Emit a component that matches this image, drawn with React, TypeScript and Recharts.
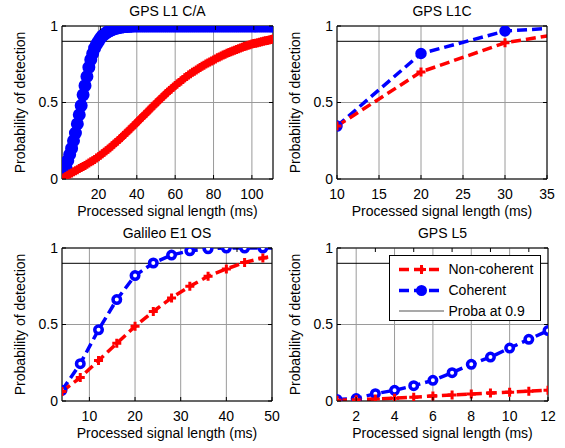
import React from 'react';
import { LineChart, Line, XAxis, YAxis, CartesianGrid, ReferenceLine, Legend } from 'recharts';

const FONT = 'Arial, "Liberation Sans", sans-serif';
const RED = '#ff0000';
const BLUE = '#0000ff';
const GRID = '#9a9a9a';

// GPS L1 C/A, one point per ms
const caLength = Array.from({ length: 111 }, (_, i) => i + 1);
const caNonCoherent = [
  0, 0.008, 0.016, 0.024, 0.032, 0.04, 0.047, 0.054, 0.061, 0.068,
  0.075, 0.082, 0.089, 0.096, 0.104, 0.112, 0.12, 0.128, 0.137, 0.146,
  0.155, 0.165, 0.175, 0.185, 0.195, 0.205, 0.216, 0.227, 0.238, 0.249,
  0.26, 0.272, 0.284, 0.296, 0.308, 0.32, 0.332, 0.344, 0.357, 0.37,
  0.382, 0.395, 0.407, 0.42, 0.432, 0.445, 0.457, 0.47, 0.482, 0.495,
  0.507, 0.519, 0.531, 0.543, 0.555, 0.567, 0.578, 0.589, 0.6, 0.611,
  0.621, 0.631, 0.641, 0.651, 0.661, 0.67, 0.679, 0.688, 0.697, 0.705,
  0.713, 0.721, 0.729, 0.737, 0.744, 0.751, 0.758, 0.765, 0.772, 0.778,
  0.785, 0.792, 0.798, 0.804, 0.81, 0.816, 0.822, 0.827, 0.832, 0.837,
  0.842, 0.847, 0.852, 0.857, 0.861, 0.866, 0.87, 0.874, 0.878, 0.882,
  0.885, 0.888, 0.891, 0.894, 0.897, 0.9, 0.903, 0.906, 0.909, 0.912, 0.915,
];
const caCoherent = [
  0, 0.04, 0.08, 0.12, 0.16, 0.2, 0.25, 0.3, 0.36, 0.42,
  0.48, 0.55, 0.61, 0.67, 0.73, 0.78, 0.82, 0.855, 0.88, 0.9,
  0.92, 0.935, 0.945, 0.955, 0.963, 0.97, 0.976, 0.981, 0.985, 0.988,
  0.991, 0.993, 0.995, 0.996, 0.997, 0.998, 0.999, 1, 1, 1,
  1, 1, 1, 1, 1, 1, 1, 1, 1, 1,
  1, 1, 1, 1, 1, 1, 1, 1, 1, 1,
  1, 1, 1, 1, 1, 1, 1, 1, 1, 1,
  1, 1, 1, 1, 1, 1, 1, 1, 1, 1,
  1, 1, 1, 1, 1, 1, 1, 1, 1, 1,
  1, 1, 1, 1, 1, 1, 1, 1, 1, 1,
  1, 1, 1, 1, 1, 1, 1, 1, 1, 1, 1,
];

// GPS L1C
const l1cLength = [10, 20, 30, 40];
const l1cNonCoherent = [0.346, 0.7, 0.89, 0.98];
const l1cCoherent = [0.346, 0.82, 0.967, 1];

// Galileo E1 OS
const e1Length = [4, 8, 12, 16, 20, 24, 28, 32, 36, 40, 44, 48, 52];
const e1NonCoherent = [0.062, 0.153, 0.265, 0.377, 0.488, 0.585, 0.674, 0.75, 0.815, 0.863, 0.906, 0.935, 0.955];
const e1Coherent = [0.07, 0.244, 0.465, 0.663, 0.82, 0.902, 0.954, 0.982, 0.995, 1, 1, 1, 1];

// GPS L5
const l5Length = [1, 2, 3, 4, 5, 6, 7, 8, 9, 10, 11, 12];
const l5NonCoherent = [0.005, 0.008, 0.013, 0.018, 0.025, 0.033, 0.04, 0.045, 0.052, 0.058, 0.064, 0.07];
const l5Coherent = [0.01, 0.016, 0.048, 0.07, 0.1, 0.135, 0.185, 0.24, 0.287, 0.346, 0.403, 0.46];

const probTicks = [0, 0.5, 1];
const threshold = 0.9;
const legendLabels = ['Non-coherent', 'Coherent', 'Proba at 0.9'];
const xLabel = 'Processed signal length (ms)';
const yLabel = 'Probability of detection';

const toRows = (xs: number[], nc: number[], c: number[]) =>
  xs.map((x, i) => ({ x, nc: nc[i], c: c[i] }));

const textStyle = { fontFamily: FONT, fontSize: 14, fill: '#000' };

// axes: tickSize/tickMargin 0 so tick x/y sit on the axis line
const BottomTick = (p: any) => (
  <g>
    <line x1={p.x} y1={p.y} x2={p.x} y2={p.y - 4} stroke="#000" />
    <text x={p.x} y={p.y + 10} dy="0.71em" textAnchor="middle" {...textStyle}>{p.payload.value}</text>
  </g>
);
const TopTick = (p: any) => <line x1={p.x} y1={p.y} x2={p.x} y2={p.y + 4} stroke="#000" />;
const LeftTick = (p: any) => (
  <g>
    <line x1={p.x} y1={p.y} x2={p.x + 4} y2={p.y} stroke="#000" />
    <text x={p.x - 4} y={p.y} dy="0.35em" textAnchor="end" {...textStyle}>{p.payload.value}</text>
  </g>
);
const RightTick = (p: any) => <line x1={p.x} y1={p.y} x2={p.x - 4} y2={p.y} stroke="#000" />;

const xLabelFn = (p: any) => {
  const vb = p.viewBox || { x: 0, y: 0, width: 0 };
  return <text x={vb.x + vb.width / 2} y={vb.y + 37} textAnchor="middle" {...textStyle}>{xLabel}</text>;
};
const yLabelFn = (p: any) => {
  const vb = p.viewBox || { x: 0, y: 0, width: 0, height: 0 };
  const x = vb.x + vb.width - 37.5;
  const y = vb.y + vb.height / 2;
  return <text x={x} y={y} transform={`rotate(-90, ${x}, ${y})`} textAnchor="middle" {...textStyle}>{yLabel}</text>;
};
const titleFn = (title: string) => (p: any) => {
  const vb = p.viewBox || { x: 0, y: 0, width: 0, height: 0 };
  return <text x={vb.x + vb.width / 2} y={vb.y + vb.height - 10} textAnchor="middle" {...textStyle}>{title}</text>;
};

const plusDot = (p: any) => {
  const { cx, cy, index } = p;
  if (cx == null || cy == null) return <g key={`p${index}`} />;
  const a = 4.5;
  return (
    <path key={`p${index}`} d={`M${cx - a},${cy}H${cx + a}M${cx},${cy - a}V${cy + a}`}
      stroke={RED} strokeWidth={3} fill="none" />
  );
};
const circleDot = (r: number, fill: string, sw: number) => (p: any) => {
  const { cx, cy, index } = p;
  if (cx == null || cy == null) return <g key={`c${index}`} />;
  return <circle key={`c${index}`} cx={cx} cy={cy} r={r} fill={fill} stroke={BLUE} strokeWidth={sw} />;
};

const LegendBox = () => {
  const rows = [13.5, 34.5, 55];
  return (
    <div style={{ width: 152, height: 66, boxSizing: 'border-box', border: '1px solid #000', background: '#fff' }}>
      <svg width={150} height={64} style={{ display: 'block' }}>
        <line x1={9} x2={54} y1={rows[0]} y2={rows[0]} stroke={RED} strokeWidth={3.5} strokeDasharray="10 5" />
        <path d={`M27,${rows[0]}H36M31.5,${rows[0] - 4.5}V${rows[0] + 4.5}`} stroke={RED} strokeWidth={3} />
        <line x1={9} x2={54} y1={rows[1]} y2={rows[1]} stroke={BLUE} strokeWidth={3.5} strokeDasharray="10 5" />
        <circle cx={31.5} cy={rows[1]} r={4.5} fill={BLUE} stroke={BLUE} strokeWidth={2} />
        <line x1={9} x2={54} y1={rows[2]} y2={rows[2]} stroke="#555" strokeWidth={1.2} />
        {legendLabels.map((l, i) => (
          <text key={l} x={58.5} y={rows[i]} dy="0.35em" {...textStyle}>{l}</text>
        ))}
      </svg>
    </div>
  );
};

type PanelProps = {
  title: string;
  left: number;
  top: number;
  width: number;
  height: number;
  plot: { top: number; right: number; bottom: number; left: number }; // plot-area insets in the chart
  rows: { x: number; nc: number; c: number }[];
  domain: [number, number];
  ticks: number[];
  circle: { r: number; fill: string; sw: number };
  legend?: boolean;
};

const AX_W = 40;
const AX_H = 40;

const Panel = ({ title, left, top, width, height, plot, rows, domain, ticks, circle, legend }: PanelProps) => (
  <div style={{ position: 'absolute', left, top }}>
    <LineChart width={width} height={height} data={rows}
      margin={{ top: plot.top - 1, right: plot.right - 1, bottom: plot.bottom - AX_H, left: plot.left - AX_W }}>
      <CartesianGrid stroke={GRID} strokeWidth={1} />
      <XAxis dataKey="x" type="number" domain={domain} ticks={ticks} allowDataOverflow interval={0}
        height={AX_H} tickSize={0} tickMargin={0} tick={BottomTick} tickLine={false}
        axisLine={{ stroke: '#000' }} label={xLabelFn} />
      <XAxis xAxisId="top" orientation="top" type="number" domain={domain} ticks={ticks} allowDataOverflow interval={0}
        height={1} tickSize={0} tickMargin={0} tick={TopTick} tickLine={false}
        axisLine={{ stroke: '#000' }} label={titleFn(title)} />
      <YAxis type="number" domain={[0, 1]} ticks={probTicks} allowDataOverflow interval={0}
        width={AX_W} tickSize={0} tickMargin={0} tick={LeftTick} tickLine={false}
        axisLine={{ stroke: '#000' }} label={yLabelFn} />
      <YAxis yAxisId="right" orientation="right" type="number" domain={[0, 1]} ticks={probTicks} allowDataOverflow interval={0}
        width={1} tickSize={0} tickMargin={0} tick={RightTick} tickLine={false}
        axisLine={{ stroke: '#000' }} />
      <ReferenceLine y={threshold} stroke="#000" strokeWidth={1} />
      <Line dataKey="c" stroke={BLUE} strokeWidth={3.5} strokeDasharray="10 5"
        dot={circleDot(circle.r, circle.fill, circle.sw)} activeDot={false} isAnimationActive={false} />
      <Line dataKey="nc" stroke={RED} strokeWidth={3.5} strokeDasharray="10 5"
        dot={plusDot} activeDot={false} isAnimationActive={false} />
      {legend && (
        <Legend layout="vertical" align="center" verticalAlign="middle" content={LegendBox}
          wrapperStyle={{ left: 108.5, top: 31, width: 152, height: 66 }} />
      )}
    </LineChart>
  </div>
);

export default function App() {
  return (
    <div style={{ position: 'absolute', left: 0, top: 0, width: 565, height: 448, background: '#fff' }}>
      <Panel title="GPS L1 C/A" left={0} top={0} width={280} height={224}
        plot={{ top: 26, right: 7, bottom: 45, left: 62 }}
        rows={toRows(caLength, caNonCoherent, caCoherent)} domain={[1, 111]} ticks={[20, 40, 60, 80, 100]}
        circle={{ r: 5, fill: BLUE, sw: 3 }} />
      <Panel title="GPS L1C" left={280} top={0} width={285} height={224}
        plot={{ top: 26, right: 18, bottom: 45, left: 57 }}
        rows={toRows(l1cLength, l1cNonCoherent, l1cCoherent)} domain={[10, 35]} ticks={[10, 15, 20, 25, 30, 35]}
        circle={{ r: 4.5, fill: BLUE, sw: 2.5 }} />
      <Panel title="Galileo E1 OS" left={0} top={224} width={280} height={224}
        plot={{ top: 24, right: 8, bottom: 47, left: 62 }}
        rows={toRows(e1Length, e1NonCoherent, e1Coherent)} domain={[4, 50]} ticks={[10, 20, 30, 40, 50]}
        circle={{ r: 3.75, fill: '#fff', sw: 3.5 }} />
      <Panel title="GPS L5" left={280} top={224} width={285} height={224}
        plot={{ top: 24, right: 17, bottom: 47, left: 57 }}
        rows={toRows(l5Length, l5NonCoherent, l5Coherent)} domain={[1, 12]} ticks={[2, 4, 6, 8, 10, 12]}
        circle={{ r: 3.75, fill: '#fff', sw: 3.5 }} legend />
    </div>
  );
}
